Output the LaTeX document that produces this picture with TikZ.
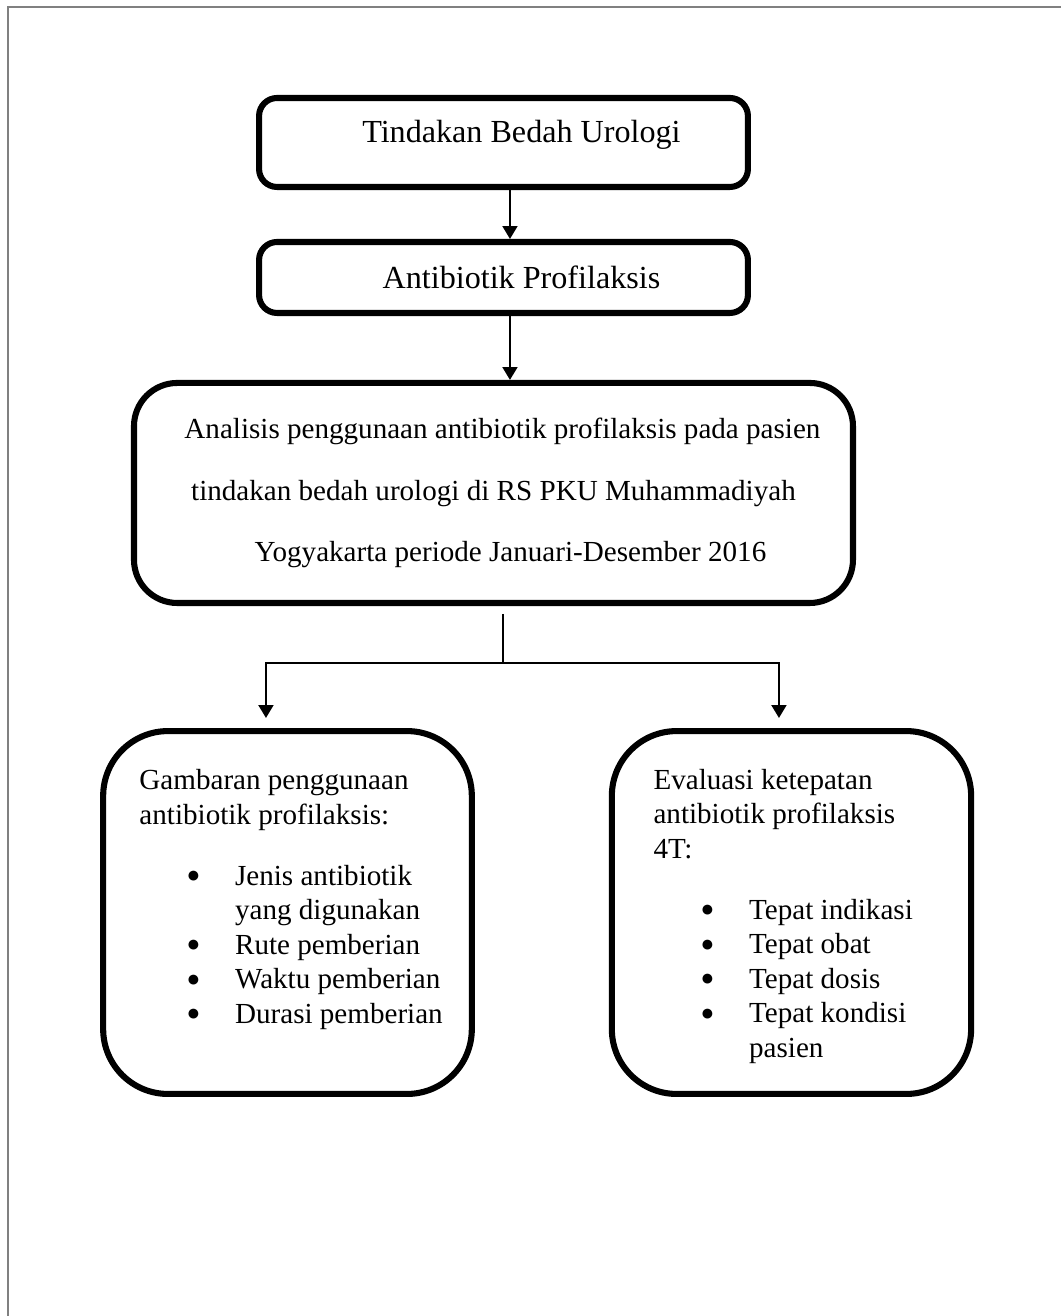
\documentclass[tikz,border=0pt]{standalone}
\usepackage{fontspec}
\setmainfont{Liberation Serif}
\usepackage{tikz}
\usetikzlibrary{arrows.meta,positioning}
\definecolor{abu}{HTML}{808080}
\newcommand{\butir}{\makebox[37.8pt][l]{\hspace*{18.6pt}\raisebox{1pt}{\fontsize{9}{9}\selectfont ●}}}

\begin{document}
\begin{tikzpicture}[
    kotak/.style={draw, line width=2.4pt, rounded corners=0.25cm, align=center, font=\fontsize{12.7}{14.6}\selectfont},
    kotakbesar/.style={draw, line width=2.4pt, rounded corners=0.9cm, minimum width=5.12cm, minimum height=5.04cm},
    isi/.style={inner sep=0pt, align=left, anchor=base west, font=\fontsize{11.5}{13.6}\selectfont},
    panah/.style={line width=0.8pt, -{Triangle[width=5.9pt,length=5.1pt]}},
    garis/.style={line width=0.8pt}
]
    \useasboundingbox (0,0) rectangle (14.736,18.278);
    % bingkai halaman (hanya sisi atas dan kiri)
    \draw[abu, line width=0.8pt] (14.736,18.181) -- (0.111,18.181) -- (0.111,0);

    % ========== Alur atas ==========
    \node[kotak, minimum width=6.79cm, minimum height=1.236cm, text depth=9pt] (tindakan) at (6.993,16.299) {\hspace*{0.5cm}Tindakan Bedah Urologi};
    \node[kotak, minimum width=6.79cm, minimum height=0.986cm] (antibiotik) at (6.993,14.424) {\hspace*{0.5cm}Antibiotik Profilaksis};

    % Kotak analisis (spasi ganda)
    \node[kotak, rounded corners=0.6cm, minimum width=9.986cm, minimum height=3.056cm, font=\fontsize{11.5}{24.4}\selectfont] (analisis) at (6.854,11.431)
        {\hspace*{0.25cm}Analisis penggunaan antibiotik profilaksis pada pasien\\ tindakan bedah urologi di RS PKU Muhammadiyah\\ \hspace*{0.47cm}Yogyakarta periode Januari-Desember 2016};

    \draw[panah] ([xshift=0.09cm]tindakan.south) -- ([xshift=0.09cm]antibiotik.north);
    \draw[panah] ([xshift=0.09cm]antibiotik.south) -- ([xshift=0.09cm]antibiotik.south |- analisis.north);

    % ========== Percabangan ==========
    \coordinate (cabang) at (6.986,9.069);
    \coordinate (ujungkiri) at (3.694,8.306);
    \coordinate (ujungkanan) at (10.819,8.306);
    \draw[garis] ([yshift=-0.11cm]analisis.south -| cabang) -- (cabang);
    \draw[panah] (cabang) -| (ujungkiri);
    \draw[panah] (cabang) -| (ujungkanan);

    % ========== Kotak bawah ==========
    \node[kotakbesar] (gambaran) at (3.993,5.604) {};
    \node[kotakbesar, minimum width=4.99cm] (evaluasi) at (10.993,5.604) {};

    % teks di dalam kotak (base = baris terakhir)
    \node[isi] (gambaranisi) at (1.93,4.069)
        {Gambaran penggunaan\\ antibiotik profilaksis:\\[10.6pt]
         \butir Jenis antibiotik\\ \hspace*{37.8pt}yang digunakan\\
         \butir Rute pemberian\\ \butir Waktu pemberian\\ \butir Durasi pemberian};
    \node[isi] (evaluasiisi) at (9.07,3.597)
        {Evaluasi ketepatan\\ antibiotik profilaksis\\ 4T:\\[10.6pt]
         \butir Tepat indikasi\\ \butir Tepat obat\\ \butir Tepat dosis\\
         \butir Tepat kondisi\\ \hspace*{37.8pt}pasien};
\end{tikzpicture}
\end{document}
